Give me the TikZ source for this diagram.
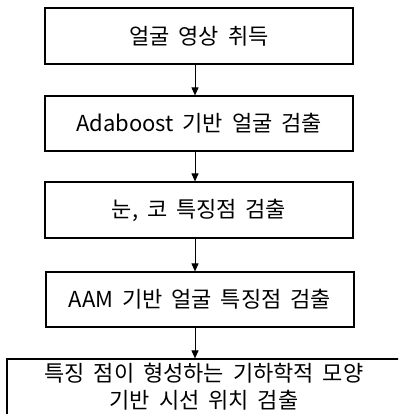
\documentclass[tikz,border=0pt]{standalone}
\usepackage{fontspec}
\setmainfont{Noto Sans CJK KR}[WordSpace=1.8]
\usetikzlibrary{arrows.meta}
\begin{document}
\begin{tikzpicture}[x=1pt,y=-1pt,
  stepbox/.style={draw,line width=1.2pt,minimum width=308pt,minimum height=56pt,inner sep=0pt,font=\fontsize{22}{27}\selectfont},
  arr/.style={line width=1pt,-{Triangle[width=7pt,length=8pt]}}]
\useasboundingbox (0,0) rectangle (398,414);
\clip (0,0) rectangle (398,414);
\node[stepbox] (b1) at (199,36) {얼굴 영상 취득};
\node[stepbox,minimum height=55pt] (b2) at (199,123.5) {Adaboost 기반 얼굴 검출};
\node[stepbox] (b3) at (199,210) {눈, 코 특징점 검출};
\node[stepbox,minimum height=55pt] (b4) at (200,299.5) {AAM 기반 얼굴 특징점 검출};
\node[stepbox,minimum width=394pt,align=center] (b5) at (204,387) {특징 점이 형성하는 기하학적 모양\\기반 시선 위치 검출};
\coordinate (ax) at (195,0);
\draw[arr] (b1.south -| ax) -- (b2.north -| ax);
\draw[arr] (b2.south -| ax) -- (b3.north -| ax);
\draw[arr] (b3.south -| ax) -- (b4.north -| ax);
\draw[arr] (b4.south -| ax) -- (b5.north -| ax);
\end{tikzpicture}
\end{document}
